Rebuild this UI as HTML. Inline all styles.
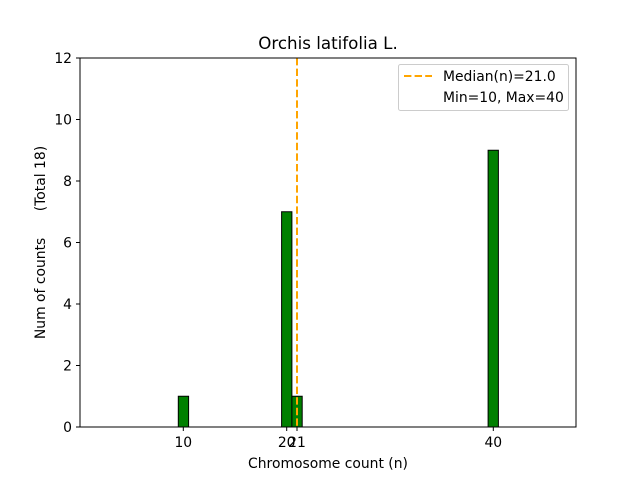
<!DOCTYPE html>
<html><head><style>body{margin:0;background:#fff}</style></head><body>
<svg width="640" height="480" xmlns="http://www.w3.org/2000/svg" font-family="DejaVu Sans, Liberation Sans, sans-serif">
<rect width="640" height="480" fill="#fff"/>
<line x1="100" y1="427" x2="530" y2="427" stroke="#000"/>
<g fill="green" stroke="#000" stroke-width="1">
<rect x="178.3" y="396.25" width="10.3" height="30.75"/>
<rect x="281.6" y="211.75" width="10.3" height="215.25"/>
<rect x="291.9" y="396.25" width="10.3" height="30.75"/>
<rect x="488.1" y="150.25" width="10.3" height="276.75"/>
</g>
<line x1="297" y1="58" x2="297" y2="427" stroke="orange" stroke-width="2" stroke-dasharray="7.4,3.2"/>
<rect x="80" y="58" width="496" height="369" fill="none" stroke="#000" stroke-width="1"/>
<g stroke="#000">
<line x1="183.3" y1="427" x2="183.3" y2="431"/><line x1="286.7" y1="427" x2="286.7" y2="431"/>
<line x1="297" y1="427" x2="297" y2="431"/><line x1="493.3" y1="427" x2="493.3" y2="431"/>
<line x1="76" y1="427" x2="80" y2="427"/><line x1="76" y1="365.5" x2="80" y2="365.5"/>
<line x1="76" y1="304" x2="80" y2="304"/><line x1="76" y1="242.5" x2="80" y2="242.5"/>
<line x1="76" y1="181" x2="80" y2="181"/><line x1="76" y1="119.5" x2="80" y2="119.5"/>
<line x1="76" y1="58" x2="80" y2="58"/>
</g>
<g font-size="13.9" text-anchor="middle">
<text x="183.3" y="447">10</text><text x="286.7" y="447">20</text><text x="297" y="447">21</text><text x="493.3" y="447">40</text>
</g>
<g font-size="13.9" text-anchor="end">
<text x="72" y="432">0</text><text x="72" y="370.5">2</text><text x="72" y="309">4</text>
<text x="72" y="247.5">6</text><text x="72" y="186">8</text><text x="72" y="124.5">10</text><text x="72" y="63">12</text>
</g>
<text x="328" y="468" font-size="13.9" text-anchor="middle">Chromosome count (n)</text>
<text transform="translate(45,242.5) rotate(-90)" font-size="13.9" text-anchor="middle" xml:space="preserve" style="white-space:pre">Num of counts      (Total 18)</text>
<text x="328" y="49" font-size="16.7" text-anchor="middle">Orchis latifolia L.</text>
<rect x="398.5" y="64.5" width="170" height="46" rx="2" fill="#fff" stroke="#ccc"/>
<line x1="404" y1="76" x2="432" y2="76" stroke="orange" stroke-width="2" stroke-dasharray="7.4,3.2"/>
<text x="443" y="81" font-size="13.9">Median(n)=21.0</text>
<text x="443" y="102" font-size="13.9">Min=10, Max=40</text>
</svg>
</body></html>
